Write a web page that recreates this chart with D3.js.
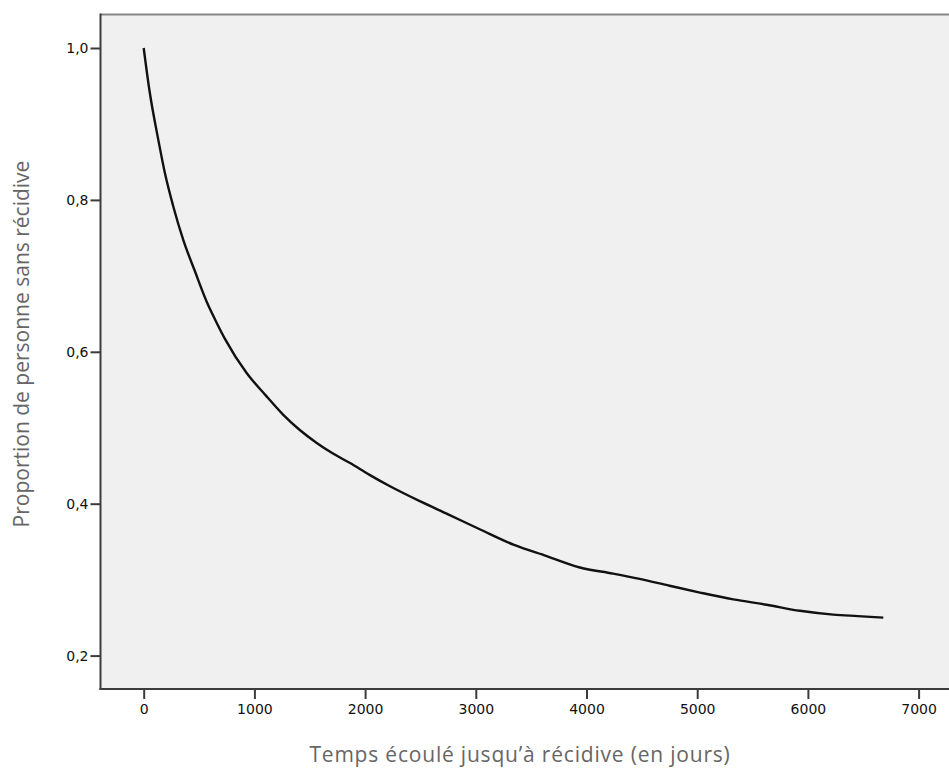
<!DOCTYPE html>
<html>
<head>
<meta charset="utf-8">
<script src="https://cdn.jsdelivr.net/npm/d3@7"></script>
<style>
  body { margin: 0; background: #fff; }
</style>
</head>
<body>
<script>
const width = 949;
const height = 776;

// courbe de survie (jours, proportion sans récidive)
const jours = [0, 51, 132, 192, 268, 358, 463, 569, 650, 734, 930, 1100, 1261, 1410, 1563, 1710,
  1864, 2040, 2225, 2500, 2750, 3040, 3340, 3640, 3940, 4240, 4480, 4750, 5025, 5326, 5627,
  5928, 6229, 6450, 6681];
const proportion = [1.000, 0.945, 0.879, 0.835, 0.791, 0.747, 0.706, 0.666, 0.641, 0.617, 0.572,
  0.543, 0.517, 0.497, 0.480, 0.466, 0.4535, 0.438, 0.423, 0.403, 0.386, 0.366, 0.346, 0.331,
  0.316, 0.308, 0.301, 0.292, 0.283, 0.274, 0.267, 0.259, 0.254, 0.252, 0.250];

const xTicks = [0, 1000, 2000, 3000, 4000, 5000, 6000, 7000];
const yTicks = [0.2, 0.4, 0.6, 0.8, 1.0];

const plot = {left: 100.5, top: 14.5, right: 951, bottom: 689};

const x = d3.scaleLinear().domain([0, 7000]).range([143.7, 918.6]);
const y = d3.scaleLinear().domain([0.2, 1.0]).range([655.6, 48]);

const svg = d3.select("body")
  .append("svg")
  .attr("width", width)
  .attr("height", height);

// fond de la zone de tracé
svg.append("rect")
  .attr("x", plot.left)
  .attr("y", plot.top)
  .attr("width", plot.right - plot.left)
  .attr("height", plot.bottom - plot.top)
  .attr("fill", "#f0f0f0");

// bord supérieur
svg.append("line")
  .attr("x1", plot.left).attr("x2", plot.right)
  .attr("y1", plot.top).attr("y2", plot.top)
  .attr("stroke", "#858585")
  .attr("stroke-width", 2);

const fmt = d => d3.format(".1f")(d).replace(".", ",");

// axe Y
const yAxis = svg.append("g")
  .attr("transform", `translate(${plot.left},0)`)
  .call(d3.axisLeft(y).tickValues(yTicks).tickFormat(fmt).tickSize(10).tickPadding(2));
yAxis.select(".domain").remove();

svg.append("line")
  .attr("x1", plot.left).attr("x2", plot.left)
  .attr("y1", plot.top - 1).attr("y2", plot.bottom + 1)
  .attr("stroke", "#3c3c3c")
  .attr("stroke-width", 2);

// axe X
const xAxis = svg.append("g")
  .attr("transform", `translate(0,${plot.bottom})`)
  .call(d3.axisBottom(x).tickValues(xTicks).tickFormat(d3.format("d")).tickSize(10).tickPadding(5));
xAxis.select(".domain").remove();

svg.append("line")
  .attr("x1", plot.left - 1).attr("x2", plot.right)
  .attr("y1", plot.bottom).attr("y2", plot.bottom)
  .attr("stroke", "#3c3c3c")
  .attr("stroke-width", 2);

svg.selectAll(".tick line")
  .attr("stroke", "#3c3c3c")
  .attr("stroke-width", 2);

svg.selectAll(".tick text")
  .style("font-family", "DejaVu Sans, Verdana, sans-serif")
  .style("font-size", "14px")
  .attr("fill", "#111");

// courbe
const points = jours.map((j, i) => ({t: j, p: proportion[i]}));

svg.append("path")
  .datum(points)
  .attr("d", d3.line().x(d => x(d.t)).y(d => y(d.p)).curve(d3.curveMonotoneX))
  .attr("fill", "none")
  .attr("stroke", "#111")
  .attr("stroke-width", 2.4);

// titres des axes
svg.append("text")
  .attr("x", 520)
  .attr("y", 762)
  .attr("text-anchor", "middle")
  .style("font-family", "Open Sans, sans-serif")
  .style("font-size", "21px")
  .style("letter-spacing", "0.8px")
  .attr("fill", "#666")
  .text("Temps écoulé jusqu’à récidive (en jours)");

svg.append("text")
  .attr("transform", "translate(29,344) rotate(-90)")
  .attr("text-anchor", "middle")
  .style("font-family", "Open Sans, sans-serif")
  .style("font-size", "21px")
  .attr("fill", "#666")
  .text("Proportion de personne sans récidive");
</script>
</body>
</html>
